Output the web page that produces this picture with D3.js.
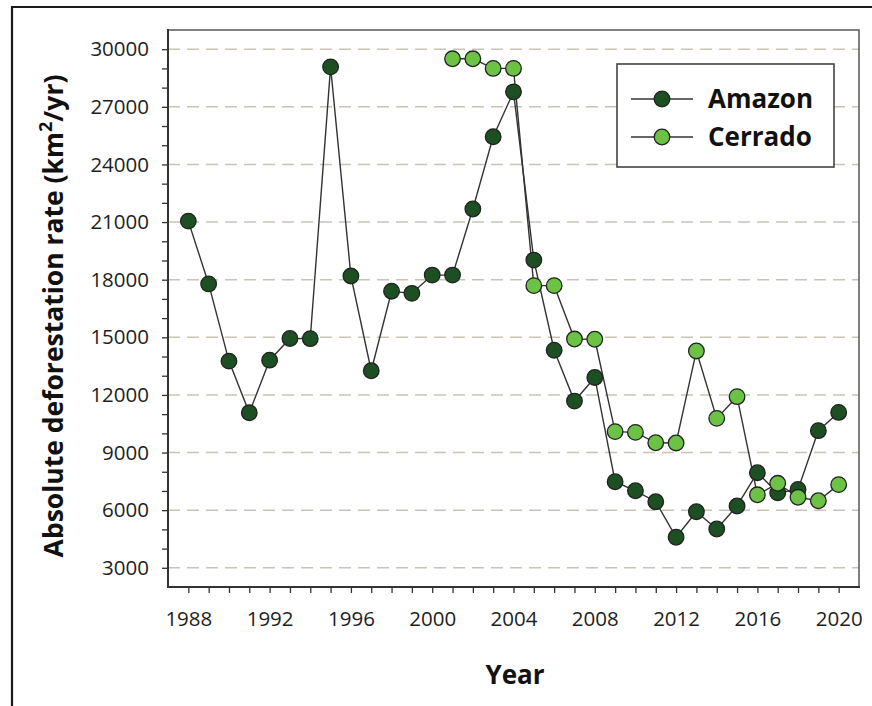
<!DOCTYPE html>
<html>
<head>
<meta charset="utf-8">
<script src="https://cdn.jsdelivr.net/npm/d3@7"></script>
<style>
  body { margin: 0; background: #fff; }
  svg { display: block; font-family: "Open Sans", "Noto Sans", sans-serif; }
</style>
</head>
<body>
<svg id="chart"></svg>
<script>
const amazonYears = d3.range(1988, 2021)
const amazonRate = [21050, 17780, 13760, 11070, 13810, 14940, 14930, 29080, 18190, 13260,
  17400, 17290, 18240, 18240, 21680, 25440, 27780, 19020, 14330, 11680,
  12910, 7480, 7010, 6440, 4590, 5920, 5020, 6220, 7950, 6900, 7080, 10140, 11090]
const cerradoYears = d3.range(2001, 2021)
const cerradoRate = [29500, 29500, 29000, 29000, 17690, 17690, 14910, 14900, 10090, 10050,
  9510, 9500, 14290, 10780, 11910, 6800, 7400, 6670, 6490, 7330]
const yTicks = [3000, 6000, 9000, 12000, 15000, 18000, 21000, 24000, 27000, 30000]
const xTicks = [1988, 1992, 1996, 2000, 2004, 2008, 2012, 2016, 2020]

const seriesNames = ["Amazon", "Cerrado"]
const seriesColors = ["#1c4f21", "#6bc244"]

const width = 872, height = 706
const plotL = 168, plotR = 859, plotT = 30, plotB = 587

const svg = d3.select("#chart").attr("width", width).attr("height", height)

// outer frame (left + top only)
svg.append("path")
  .attr("d", `M12,${height} V7 H${width}`)
  .attr("fill", "none").attr("stroke", "#1a1a1a").attr("stroke-width", 2.2)

const x = d3.scaleLinear().domain([1987, 2021]).range([plotL, plotR])
const y = d3.scaleLinear().domain([2000, 31000]).range([plotB, plotT])

// gridlines
svg.append("g").selectAll("line").data(yTicks).join("line")
  .attr("x1", plotL).attr("x2", plotR)
  .attr("y1", d => y(d)).attr("y2", d => y(d))
  .attr("stroke", "#c9c3b6").attr("stroke-width", 1.5)
  .attr("stroke-dasharray", "12,7")

// plot box top/right
svg.append("path")
  .attr("d", `M${plotL},${plotT} H${plotR} V${plotB}`)
  .attr("fill", "none").attr("stroke", "#555").attr("stroke-width", 1.5)

// y axis
const yAxis = svg.append("g").attr("transform", `translate(${plotL},0)`)
  .call(d3.axisLeft(y).tickValues(d3.range(3000, 31000, 1000)).tickSize(6)
    .tickFormat(d => yTicks.includes(d) ? d : ""))
yAxis.select(".domain").remove()
yAxis.selectAll(".tick line").attr("stroke", "#333").attr("stroke-width", 1.3)
yAxis.selectAll(".tick text").attr("font-size", 20.5).attr("fill", "#1e1e1e")
  .attr("x", -19).attr("font-family", "'Open Sans', sans-serif")

// x axis
const xAxis = svg.append("g").attr("transform", `translate(0,${plotB})`)
  .call(d3.axisBottom(x).tickValues(d3.range(1988, 2021)).tickSize(6)
    .tickFormat(d => xTicks.includes(d) ? d : ""))
xAxis.select(".domain").remove()
xAxis.selectAll(".tick line").attr("stroke", "#333").attr("stroke-width", 1.3)
xAxis.selectAll(".tick text").attr("font-size", 20.5).attr("fill", "#1e1e1e")
  .attr("y", 24).attr("font-family", "'Open Sans', sans-serif")

// axis lines
svg.append("path")
  .attr("d", `M${plotL},${plotT - 1} V${plotB} H${plotR + 1}`)
  .attr("fill", "none").attr("stroke", "#333").attr("stroke-width", 2)

// titles
const yTitle = svg.append("text")
  .attr("transform", `translate(63,316) rotate(-90)`)
  .attr("text-anchor", "middle")
  .attr("font-size", 26.5).attr("font-weight", "bold").attr("fill", "#111")
yTitle.append("tspan").text("Absolute deforestation rate (km")
yTitle.append("tspan").text("2").attr("font-size", 18).attr("dy", -11)
yTitle.append("tspan").text("/yr)").attr("dy", 11)

svg.append("text")
  .attr("x", 515).attr("y", 684)
  .attr("text-anchor", "middle")
  .attr("font-size", 26).attr("font-weight", "bold").attr("fill", "#111")
  .text("Year")

// series
const series = [
  { name: seriesNames[0], color: seriesColors[0], data: amazonYears.map((yr, i) => [yr, amazonRate[i]]) },
  { name: seriesNames[1], color: seriesColors[1], data: cerradoYears.map((yr, i) => [yr, cerradoRate[i]]) }
]

const line = d3.line().x(d => x(d[0])).y(d => y(d[1]))

series.forEach(s => {
  svg.append("path")
    .datum(s.data)
    .attr("d", line)
    .attr("fill", "none").attr("stroke", "#333").attr("stroke-width", 1.4)
})
series.forEach(s => {
  svg.append("g").selectAll("circle").data(s.data).join("circle")
    .attr("cx", d => x(d[0])).attr("cy", d => y(d[1]))
    .attr("r", 7.8)
    .attr("fill", s.color).attr("stroke", "#222").attr("stroke-width", 1.3)
})

// legend
const legend = svg.append("g")
legend.append("rect")
  .attr("x", 617).attr("y", 64).attr("width", 217).attr("height", 103)
  .attr("fill", "#fff").attr("stroke", "#444").attr("stroke-width", 1.6)

const rows = legend.selectAll("g.row").data(series).join("g")
  .attr("class", "row")
  .attr("transform", (d, i) => `translate(0,${99 + i * 38})`)
rows.append("line")
  .attr("x1", 631).attr("x2", 693)
  .attr("stroke", "#333").attr("stroke-width", 1.4)
rows.append("circle")
  .attr("cx", 662).attr("r", 7.8)
  .attr("fill", d => d.color).attr("stroke", "#222").attr("stroke-width", 1.3)
rows.append("text")
  .attr("x", 708).attr("y", 9)
  .attr("font-size", 26).attr("font-weight", "bold").attr("fill", "#111")
  .text(d => d.name)
</script>
</body>
</html>
